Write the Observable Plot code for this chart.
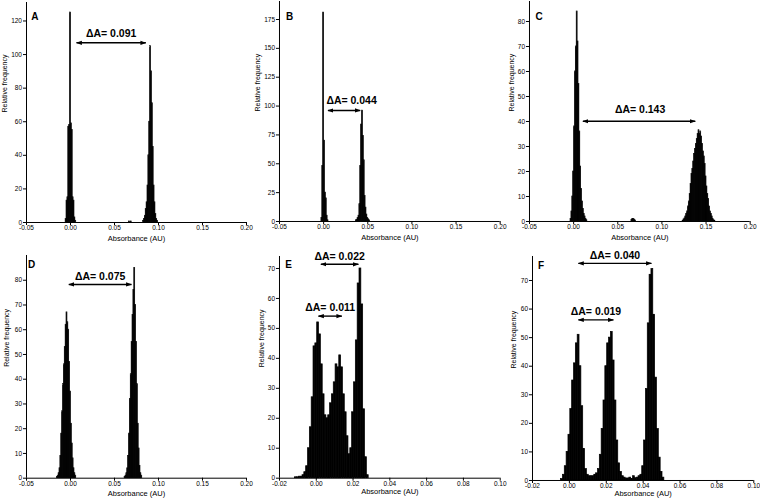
<!DOCTYPE html>
<html><head><meta charset="utf-8">
<script src="https://cdn.jsdelivr.net/npm/d3@7"></script>
<script src="https://cdn.jsdelivr.net/npm/@observablehq/plot@0.6"></script>
<style>
html,body{margin:0;padding:0;background:#fff;}
#fig{position:relative;width:760px;height:500px;overflow:hidden;background:#fff;}
#fig svg{position:absolute;}
</style></head><body><div id="fig"></div>
<script>
// ---- tick labels ----
const xTicksWide = [-0.05, 0, 0.05, 0.10, 0.15, 0.20];
const xTicksNarrow = [-0.02, 0, 0.02, 0.04, 0.06, 0.08, 0.10];
const yTicksA = [0, 20, 40, 60, 80, 100, 120];
const yTicksB = [0, 25, 50, 75, 100, 125, 150, 175];
const yTicksC = [0, 10, 20, 30, 40, 50, 60, 70, 80];
const yTicksD = [0, 10, 20, 30, 40, 50, 60, 70, 80];
const yTicksE = [0, 10, 20, 30, 40, 50, 60, 70];
const yTicksF = [0, 10, 20, 30, 40, 50, 60, 70];

// ---- histogram bins: [bin centre (AU), relative frequency] ----
const histA = [[-0.005,2],[-0.004,13],[-0.003,15],[-0.002,57],[-0.001,58],[0,125],[0.001,59],[0.002,55],[0.003,15],[0.004,13],[0.005,3],[0.006,1],
  [0.067,0.6],[0.069,0.6],
  [0.083,1],[0.084,2],[0.085,4],[0.086,8],[0.087,12],[0.088,22],[0.089,40],[0.090,60],[0.091,105],[0.092,90],[0.093,71],[0.094,45],[0.095,22],[0.096,12],[0.097,5],[0.098,2],[0.099,1]];
const histB = [[-0.002,3],[-0.001,48],[0,181],[0.001,70],[0.002,25],[0.003,20],[0.004,5],[0.005,1],
  [0.037,1],[0.038,1.5],[0.039,3],[0.040,5],[0.041,15],[0.042,48],[0.043,84],[0.044,96],[0.045,74],[0.046,53],[0.047,22],[0.048,12],[0.049,6],[0.050,3],[0.051,2],[0.052,1]];
const histC = [[-0.003,1],[-0.002,4],[-0.001,10],[0,20],[0.001,38],[0.002,60],[0.003,70],[0.004,84],[0.005,72],[0.006,55],[0.007,36],[0.008,22],[0.009,13],[0.010,8],[0.011,5],[0.012,3],[0.013,2],[0.014,1],[0.015,0.5],
  [0.066,0.6],[0.067,1],[0.068,1],[0.069,0.8],[0.070,0.4],
  [0.124,0.3],[0.125,0.8],[0.126,1.2],[0.127,2],[0.128,3],[0.129,4],[0.130,6],[0.131,8],[0.132,11],[0.133,15],[0.134,19],[0.135,21],[0.136,24],[0.137,27],[0.138,29],[0.139,31],[0.140,33],[0.141,35],[0.142,36.5],[0.143,35],[0.144,36],[0.145,34],[0.146,31],[0.147,28],[0.148,26],[0.149,23],[0.150,18],[0.151,14],[0.152,11],[0.153,9],[0.154,6],[0.155,4],[0.156,3],[0.157,2],[0.158,1],[0.159,0.5],[0.160,0.3]];
const histD = [[-0.015,0.5],[-0.014,1],[-0.013,2],[-0.012,4],[-0.011,9],[-0.010,18],[-0.009,27],[-0.008,38],[-0.007,46],[-0.006,53],[-0.005,62],[-0.004,67],[-0.003,63],[-0.002,60],[-0.001,47],[0,35],[0.001,22],[0.002,14],[0.003,8],[0.004,4],[0.005,2],[0.006,1],
  [0.062,0.5],[0.063,1],[0.064,2],[0.065,4],[0.066,9],[0.067,18],[0.068,32],[0.069,42],[0.070,55],[0.071,66],[0.072,76],[0.073,85],[0.074,70],[0.075,55],[0.076,38],[0.077,22],[0.078,12],[0.079,5],[0.080,2],[0.081,1]];
const histE = [[-0.011,0.3],[-0.010,0.3],[-0.009,0.5],[-0.008,0.5],[-0.007,1],[-0.006,2],[-0.005,4],[-0.004,10],[-0.003,17],[-0.002,27],[-0.001,44],[0,45],[0.001,52],[0.002,48],[0.003,38],[0.004,28],[0.005,21],[0.006,20],[0.007,21],[0.008,25],[0.009,28],[0.010,32],[0.011,38],[0.012,37],[0.013,41],[0.014,37],[0.015,28],[0.016,22],[0.017,14],[0.018,8],[0.019,10],[0.020,22],[0.021,32],[0.022,46],[0.023,65],[0.024,70],[0.025,58],[0.026,23],[0.027,7],[0.028,1]];
const histF = [[-0.004,0.5],[-0.003,2],[-0.002,5],[-0.001,10],[0,16],[0.001,25],[0.002,35],[0.003,41],[0.004,48],[0.005,51],[0.006,40],[0.007,26],[0.008,11],[0.009,4],[0.010,2],[0.011,1.5],[0.012,1.5],[0.013,1.5],[0.014,2],[0.015,2.5],
  [0.016,4],[0.017,9],[0.018,18],[0.019,28],[0.020,40],[0.021,48],[0.022,50],[0.023,52],[0.024,42],[0.025,28],[0.026,14],[0.027,6],[0.028,3],[0.029,1.5],[0.030,1],[0.031,0.7],[0.032,0.7],[0.033,1],[0.034,0.5],[0.035,1.5],[0.036,0.8],[0.037,1],[0.038,1.5],
  [0.039,2],[0.040,5],[0.041,14],[0.042,32],[0.043,55],[0.044,72],[0.045,74],[0.046,58],[0.047,36],[0.048,18],[0.049,8],[0.050,3],[0.051,1]];

// ---- ΔA annotations (double-headed arrows) ----
const annA = [{x1: 0.0068, x2: 0.0856, y: 107, label: "ΔA= 0.091"}];
const annB = [{x1: 0.0049, x2: 0.0414, y: 96.2, label: "ΔA= 0.044"}];
const annC = [{x1: 0.0105, x2: 0.1378, y: 40.1, label: "ΔA= 0.143"}];
const annD = [{x1: -0.0019, x2: 0.0693, y: 78.3, label: "ΔA= 0.075"}];
const annE = [{x1: 0.0025, x2: 0.0229, y: 71.4, label: "ΔA= 0.022"}, {x1: 0.0012, x2: 0.0139, y: 54.1, label: "ΔA= 0.011"}];
const annF = [{x1: 0.0049, x2: 0.0445, y: 76, label: "ΔA= 0.040"}, {x1: 0.0049, x2: 0.0239, y: 56.2, label: "ΔA= 0.019"}];

// ---- panel layout ----
const panels = [
  {letter: "A", hist: histA, ann: annA, xDomain: [-0.05, 0.20], xTicks: xTicksWide, yDomain: [0, 131], yTicks: yTicksA,
   x0: 26, x1: 246, y0: 222, top: 2, letterDx: 4.7, letterDy: 14.3, labelDx: 0, labelDy: -9.4, xTitleDy: 16, yTitleDx: -22},
  {letter: "B", hist: histB, ann: annB, xDomain: [-0.05, 0.20], xTicks: xTicksWide, yDomain: [0, 190.6], yTicks: yTicksB,
   x0: 279.3, x1: 500, y0: 221, top: 1, letterDx: 6.4, letterDy: 15.7, labelDx: 7.5, labelDy: -9.5, xTitleDy: 16.3, yTitleDx: -22},
  {letter: "C", hist: histC, ann: annC, xDomain: [-0.05, 0.20], xTicks: xTicksWide, yDomain: [0, 88], yTicks: yTicksC,
   x0: 529.3, x1: 750, y0: 221, top: 1, letterDx: 6, letterDy: 15.7, labelDx: 1, labelDy: -12, xTitleDy: 16.3, yTitleDx: -17.6},
  {letter: "D", hist: histD, ann: annD, xDomain: [-0.05, 0.20], xTicks: xTicksWide, yDomain: [0, 90], yTicks: yTicksD,
   x0: 26, x1: 246, y0: 477.7, top: 255, letterDx: 1.5, letterDy: 9.2, labelDx: 0, labelDy: -8.1, xTitleDy: 15, yTitleDx: -19.3},
  {letter: "E", hist: histE, ann: annE, xDomain: [-0.02, 0.10], xTicks: xTicksNarrow, yDomain: [0, 74], yTicks: yTicksE,
   x0: 279.3, x1: 500, y0: 477.7, top: 256, letterDx: 5.7, letterDy: 8.7, labelDx: 0, labelDy: -8.1, xTitleDy: 13.8, yTitleDx: -17.6},
  {letter: "F", hist: histF, ann: annF, xDomain: [-0.02, 0.10], xTicks: xTicksNarrow, yDomain: [0, 78.4], yTicks: yTicksF,
   x0: 531.7, x1: 753, y0: 480, top: 256, letterDx: 5.6, letterDy: 9, labelDx: 0, labelDy: -7.8, xTitleDy: 13.5, yTitleDx: -18.4}
];

const ML = 30, MR = 10, MT = 14, MB = 26;
const FONT = "'Liberation Sans', Arial, Helvetica, sans-serif";
const BW = 0.001;
const fmt = d => d.toFixed(2);

function arrowHead(color, context) {
  const doc = (context && context.document) || document;
  const m = doc.createElementNS("http://www.w3.org/2000/svg", "marker");
  m.setAttribute("viewBox", "-5 -5 10 10");
  m.setAttribute("markerWidth", "6");
  m.setAttribute("markerHeight", "6");
  m.setAttribute("refX", "4");
  m.setAttribute("refY", "0");
  m.setAttribute("orient", "auto-start-reverse");
  m.setAttribute("markerUnits", "userSpaceOnUse");
  m.setAttribute("fill", "black");
  m.setAttribute("stroke", "none");
  const p = doc.createElementNS("http://www.w3.org/2000/svg", "path");
  p.setAttribute("d", "M-5,-3.6L5,0L-5,3.6Z");
  m.appendChild(p);
  return m;
}

const fig = document.getElementById("fig");
for (const p of panels) {
  const w = p.x1 - p.x0 + ML + MR;
  const h = p.y0 - p.top + MT + MB;
  const svg = Plot.plot({
    width: w, height: h,
    marginLeft: ML, marginRight: MR, marginTop: MT, marginBottom: MB,
    style: {background: "transparent", fontFamily: FONT, fontSize: "6.5px", color: "black", overflow: "visible"},
    x: {domain: p.xDomain, ticks: p.xTicks, tickFormat: fmt, tickSize: 3, tickPadding: 0.3, label: null},
    y: {domain: p.yDomain, ticks: p.yTicks, tickSize: 3, tickPadding: 1.5, label: null},
    marks: [
      Plot.rect(p.hist, {x1: d => d[0] - BW / 2, x2: d => d[0] + BW / 2, y1: 0, y2: d => d[1],
        fill: "black", stroke: "black", strokeWidth: 0.7, inset: 0}),
      Plot.ruleY([0], {stroke: "black", strokeWidth: 1}),
      Plot.ruleX([p.xDomain[0]], {stroke: "black", strokeWidth: 1}),
      Plot.link(p.ann, {x1: "x1", x2: "x2", y1: "y", y2: "y", stroke: "black", strokeWidth: 1.4,
        markerStart: arrowHead, markerEnd: arrowHead}),
      Plot.text(p.ann, {x: d => (d.x1 + d.x2) / 2, y: "y", text: "label", dx: p.labelDx, dy: p.labelDy,
        fontWeight: "bold", fontSize: 10.5, lineAnchor: "middle", fill: "black"}),
      Plot.text([p.letter], {frameAnchor: "top-left", text: d => d, dx: p.letterDx, dy: p.letterDy,
        textAnchor: "start", lineAnchor: "middle", fontWeight: "bold", fontSize: 10, fill: "black"}),
      Plot.text(["Absorbance (AU)"], {frameAnchor: "bottom", text: d => d, dy: p.xTitleDy,
        fontSize: 7.5, lineAnchor: "middle", fill: "black"}),
      Plot.text(["Relative frequency"], {frameAnchor: "left", text: d => d, dx: p.yTitleDx, rotate: -90,
        fontSize: 7, lineAnchor: "middle", fill: "black"})
    ]
  });
  svg.style.position = "absolute";
  svg.style.left = (p.x0 - ML) + "px";
  svg.style.top = (p.top - MT) + "px";
  svg.style.maxWidth = "none";
  fig.appendChild(svg);
}
</script>
</body></html>
